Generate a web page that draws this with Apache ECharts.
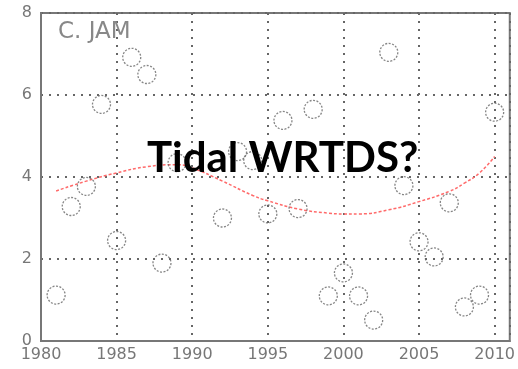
<!DOCTYPE html>
<html>
<head>
<meta charset="utf-8">
<script src="https://cdn.jsdelivr.net/npm/echarts@6/dist/echarts.min.js"></script>
<style>
  html, body { margin: 0; padding: 0; background: #fff; }
  #chart { width: 518px; height: 369px; }
</style>
</head>
<body>
<div id="chart"></div>
<script>
// Annual observations (year, value)
const years = [1981, 1982, 1983, 1984, 1985, 1986, 1987, 1988, 1989, 1992, 1993, 1994,
               1995, 1996, 1997, 1998, 1999, 2000, 2001, 2002, 2003, 2004, 2005, 2006,
               2007, 2008, 2009, 2010];
const values = [1.12, 3.28, 3.77, 5.77, 2.45, 6.92, 6.50, 1.90, 4.35, 3.00, 4.62, 4.40,
                3.10, 5.38, 3.23, 5.65, 1.10, 1.66, 1.10, 0.51, 7.04, 3.79, 2.42, 2.05,
                3.37, 0.83, 1.12, 5.58];

// Smoothed trend
const trendYears = [1981, 1983, 1985, 1987, 1989, 1990, 1992, 1994, 1995, 1997, 1999,
                    2000, 2001, 2003, 2005, 2007, 2008, 2009, 2010];
const trendValues = [3.66, 3.90, 4.10, 4.25, 4.30, 4.22, 3.90, 3.55, 3.42, 3.22, 3.12,
                     3.10, 3.10, 3.20, 3.40, 3.65, 3.85, 4.10, 4.50];

const yTicks = [0, 2, 4, 6, 8];
const xTicks = [1980, 1985, 1990, 1995, 2000, 2005, 2010];

const chart = echarts.init(document.getElementById('chart'), null, { renderer: 'canvas' });

const gridLine = { show: true, lineStyle: { color: '#666', width: 2, type: [2, 6] } };
const labelFont = { color: '#777', fontSize: 16, fontFamily: 'DejaVu Sans', fontWeight: 'normal' };

chart.setOption({
  animation: false,
  backgroundColor: '#fff',
  grid: { left: 41, right: 4, top: 13, bottom: 28, show: true, borderColor: '#777', borderWidth: 2 },
  title: [
    { text: 'C. JAM', left: 53, top: 16,
      textStyle: { color: '#888', fontSize: 23, fontWeight: 'normal', fontFamily: 'DejaVu Sans' } },
    { text: 'Tidal WRTDS?', left: 142, top: 132,
      textStyle: { color: '#000', fontSize: 42, fontWeight: 'bold', fontFamily: 'Lato' } }
  ],
  xAxis: {
    type: 'value', min: xTicks[0], max: 2011, interval: 5,
    axisLine: { show: true, lineStyle: { color: '#777', width: 2 } },
    axisTick: { show: false },
    splitLine: gridLine,
    axisLabel: Object.assign({ margin: 6, showMaxLabel: false,
      formatter: v => (xTicks.includes(v) ? String(v) : '') }, labelFont)
  },
  yAxis: {
    type: 'value', min: yTicks[0], max: yTicks[yTicks.length - 1], interval: 2,
    axisLine: { show: true, lineStyle: { color: '#777', width: 2 } },
    axisTick: { show: false },
    splitLine: gridLine,
    axisLabel: Object.assign({ margin: 9 }, labelFont)
  },
  series: [
    {
      type: 'line',
      data: trendYears.map((y, i) => [y, trendValues[i]]),
      smooth: 0.5, symbol: 'none',
      lineStyle: { color: '#ff6a6a', width: 1.5, type: [3, 2] },
      z: 2
    },
    {
      type: 'scatter',
      data: years.map((y, i) => [y, values[i]]),
      symbol: 'circle', symbolSize: 18,
      itemStyle: { color: 'rgba(0,0,0,0)', borderColor: '#666', borderWidth: 1.3, borderType: [2, 1.5] },
      z: 3
    }
  ]
});
</script>
</body>
</html>
